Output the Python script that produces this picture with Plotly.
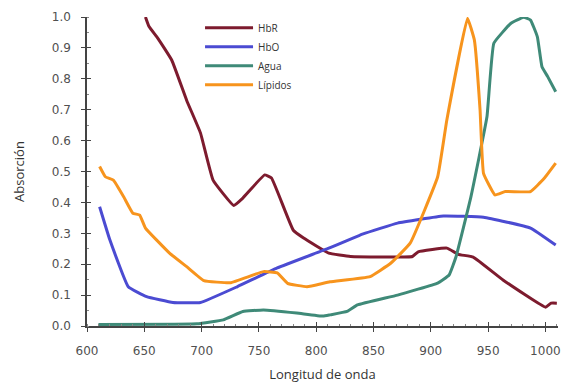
import plotly.graph_objects as go

# Data
hbr_x = [651, 654, 662, 674, 687, 699, 710, 728, 736, 755, 761, 780, 789, 811, 830, 884, 889, 914, 924, 937, 963, 1000, 1005, 1010]
hbr_y = [1.0, 0.97, 0.93, 0.86, 0.73, 0.625, 0.472, 0.39, 0.414, 0.489, 0.479, 0.31, 0.285, 0.236, 0.225, 0.225, 0.24, 0.252, 0.232, 0.223, 0.149, 0.061, 0.074, 0.074]

hbo_x = [611, 620, 636, 652, 675, 699, 731, 766, 811, 841, 871, 911, 946, 987, 1009]
hbo_y = [0.386, 0.278, 0.127, 0.095, 0.076, 0.076, 0.127, 0.188, 0.252, 0.298, 0.333, 0.356, 0.352, 0.317, 0.262]

agua_x = [610, 696, 719, 736, 754, 783, 806, 812, 827, 836, 871, 906, 916, 922, 935, 949, 955, 970, 981, 987, 993, 997, 1002, 1009]
agua_y = [0.005, 0.007, 0.02, 0.047, 0.052, 0.042, 0.032, 0.036, 0.047, 0.068, 0.1, 0.139, 0.165, 0.224, 0.418, 0.677, 0.915, 0.98, 0.999, 0.99, 0.936, 0.839, 0.807, 0.758]

lip_x = [611, 616, 623, 632, 640, 646, 651, 672, 687, 702, 725, 754, 766, 775, 792, 812, 847, 865, 882, 906, 914, 932, 938, 943, 946, 956, 965, 987, 999, 1009]
lip_y = [0.516, 0.483, 0.472, 0.418, 0.365, 0.359, 0.317, 0.236, 0.192, 0.147, 0.14, 0.176, 0.172, 0.138, 0.127, 0.143, 0.16, 0.203, 0.268, 0.483, 0.667, 0.996, 0.926, 0.699, 0.494, 0.424, 0.435, 0.435, 0.478, 0.527]

names = ["HbR", "HbO", "Agua", "Lípidos"]
colors = ["#7D1B2E", "#4B4BD2", "#3F8A78", "#F7941D"]
series = [(hbr_x, hbr_y), (hbo_x, hbo_y), (agua_x, agua_y), (lip_x, lip_y)]

xticks = [600, 650, 700, 750, 800, 850, 900, 950, 1000]
yticks = [0.0, 0.1, 0.2, 0.3, 0.4, 0.5, 0.6, 0.7, 0.8, 0.9, 1.0]

fig = go.Figure()
for name, color, (xs, ys) in zip(names, colors, series):
    fig.add_trace(go.Scatter(x=xs, y=ys, name=name, mode="lines",
                             line=dict(color=color, width=3, shape="spline", smoothing=0.3)))

# helper trace for overlaid axes (inside half of crossing ticks)
fig.add_trace(go.Scatter(x=[800], y=[0.5], xaxis="x2", yaxis="y2", mode="markers",
                         marker=dict(opacity=0, size=1), showlegend=False, hoverinfo="skip"))

tickfont = dict(family="DejaVu Sans", size=12, color="#505050")
axcol = "#444444"

fig.update_layout(
    width=569, height=383,
    margin=dict(l=87, r=11, t=17, b=57),
    paper_bgcolor="white", plot_bgcolor="white",
    showlegend=True,
    legend=dict(x=0.24, y=1.012, xanchor="left", yanchor="top",
                font=dict(family="Open Sans", size=10, color="#333333"),
                bgcolor="rgba(0,0,0,0)", itemwidth=48, tracegroupgap=0),
    xaxis=dict(range=[600, 1011], tickvals=xticks, ticktext=[str(v) for v in xticks],
               showgrid=False, zeroline=False, showline=True, linecolor=axcol, linewidth=1.5,
               ticks="outside", ticklen=4, tickcolor=axcol, tickwidth=1, automargin=False,
               minor=dict(dtick=10, tick0=600, ticks="inside", ticklen=2, tickcolor="#888888", showgrid=False),
               tickfont=tickfont, ticklabelstandoff=9,
               title=dict(text="Longitud de onda", font=dict(family="Open Sans", size=13, color="#333333"), standoff=14)),
    yaxis=dict(range=[0, 1.0], tickvals=yticks, ticktext=[f"{v:.1f}" for v in yticks],
               showgrid=False, zeroline=False, showline=True, linecolor=axcol, linewidth=1.5,
               ticks="outside", ticklen=4, tickcolor=axcol, tickwidth=1, automargin=False,
               minor=dict(dtick=0.05, tick0=0, ticks="inside", ticklen=2, tickcolor="#888888", showgrid=False),
               tickfont=tickfont, ticklabelstandoff=8,
               title=dict(text="Absorción", font=dict(family="Open Sans", size=13, color="#333333"), standoff=24)),
    xaxis2=dict(range=[600, 1011], overlaying="x", anchor="y2", tickvals=xticks, showticklabels=False,
                ticks="inside", ticklen=4, tickcolor=axcol, showgrid=False, zeroline=False, showline=False),
    yaxis2=dict(range=[0, 1.0], overlaying="y", anchor="x2", tickvals=yticks, showticklabels=False,
                ticks="inside", ticklen=4, tickcolor=axcol, showgrid=False, zeroline=False, showline=False),
)

fig.write_html("out.html")
